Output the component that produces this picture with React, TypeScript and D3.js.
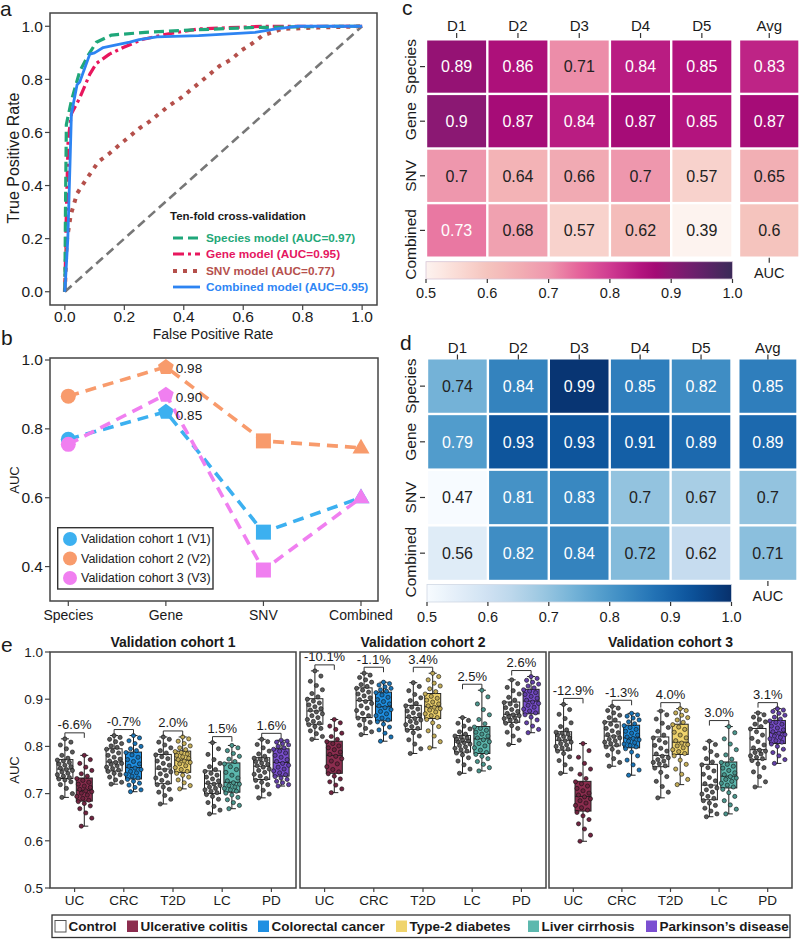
import React from "react";
import * as d3 from "d3";

const FONT = "'Liberation Sans', Arial, Helvetica, sans-serif";

// ---------------- Panel a: ROC curves (FPR, TPR) ----------------
const rocSpecies: [number, number][] = [[0, 0], [0.002, 0.3], [0.005, 0.63], [0.022, 0.72], [0.05, 0.83], [0.078, 0.89], [0.106, 0.94], [0.157, 0.967], [0.27, 0.977], [0.386, 0.984], [0.62, 0.995], [0.9, 1], [1, 1]];
const rocGene: [number, number][] = [[0, 0], [0.005, 0.3], [0.011, 0.57], [0.022, 0.67], [0.05, 0.73], [0.084, 0.82], [0.106, 0.86], [0.15, 0.895], [0.196, 0.92], [0.26, 0.95], [0.34, 0.97], [0.45, 0.99], [0.67, 1], [1, 1]];
const rocSNV: [number, number][] = [[0, 0], [0.006, 0.19], [0.02, 0.29], [0.041, 0.37], [0.07, 0.42], [0.113, 0.49], [0.149, 0.52], [0.18, 0.55], [0.25, 0.615], [0.283, 0.64], [0.35, 0.7], [0.39, 0.73], [0.456, 0.79], [0.52, 0.85], [0.56, 0.875], [0.595, 0.91], [0.63, 0.935], [0.665, 0.965], [0.73, 0.99], [0.85, 0.995], [1, 1]];
const rocCombined: [number, number][] = [[0, 0], [0.01, 0.2], [0.017, 0.47], [0.022, 0.67], [0.041, 0.78], [0.05, 0.79], [0.084, 0.895], [0.1, 0.9], [0.129, 0.92], [0.173, 0.93], [0.218, 0.94], [0.25, 0.95], [0.31, 0.96], [0.45, 0.965], [0.64, 0.977], [0.71, 0.99], [0.78, 1], [1, 1]];
const rocLabels = ["Species model (AUC=0.97)", "Gene model (AUC=0.95)", "SNV model (AUC=0.77)", "Combined model (AUC=0.95)"];
const rocTicks = [0, 0.2, 0.4, 0.6, 0.8, 1.0];

// ---------------- Panel b ----------------
const modelCats = ["Species", "Gene", "SNV", "Combined"];
const v1Auc = [0.77, 0.85, 0.5, 0.6];
const v2Auc = [0.895, 0.98, 0.765, 0.745];
const v3Auc = [0.755, 0.9, 0.39, 0.6];
const cohortNames = ["Validation cohort 1 (V1)", "Validation cohort 2 (V2)", "Validation cohort 3 (V3)"];
const bTicks = [0.4, 0.6, 0.8, 1.0];

// ---------------- Panels c, d ----------------
const dsets = ["D1", "D2", "D3", "D4", "D5"];
const hmRows = ["Species", "Gene", "SNV", "Combined"];
const cValues = [
  [0.89, 0.86, 0.71, 0.84, 0.85],
  [0.9, 0.87, 0.84, 0.87, 0.85],
  [0.7, 0.64, 0.66, 0.7, 0.57],
  [0.73, 0.68, 0.57, 0.62, 0.39],
];
const cAvg = [0.83, 0.87, 0.65, 0.6];
const dValues = [
  [0.74, 0.84, 0.99, 0.85, 0.82],
  [0.79, 0.93, 0.93, 0.91, 0.89],
  [0.47, 0.81, 0.83, 0.7, 0.67],
  [0.56, 0.82, 0.84, 0.72, 0.62],
];
const dAvg = [0.85, 0.89, 0.7, 0.71];
const cbTicks = [0.5, 0.6, 0.7, 0.8, 0.9, 1.0];

// ---------------- Panel e ----------------
const diseases = ["UC", "CRC", "T2D", "LC", "PD"];
const eTicks = [0.5, 0.6, 0.7, 0.8, 0.9, 1.0];
// box stats: [min, q1, median, q3, max]
const e1CtrlStats = [[.692, .732, .752, .772, .816], [.720, .748, .767, .795, .823], [.678, .721, .752, .783, .820], [.657, .700, .721, .748, .808], [.691, .730, .758, .776, .815]];
const e1DisStats = [[.631, .684, .707, .733, .781], [.704, .731, .755, .788, .823], [.710, .745, .771, .790, .820], [.668, .703, .724, .765, .802], [.716, .737, .766, .795, .813]];
const e2CtrlStats = [[.815, .847, .875, .901, .960], [.825, .861, .897, .924, .955], [.785, .836, .861, .887, .935], [.743, .788, .809, .823, .861], [.804, .851, .868, .894, .941]];
const e2DisStats = [[.702, .743, .781, .811, .857], [.811, .854, .884, .915, .936], [.797, .859, .884, .912, .955], [.748, .785, .816, .842, .919], [.829, .869, .896, .921, .948]];
const e3CtrlStats = [[.743, .792, .813, .831, .889], [.758, .801, .822, .852, .885], [.691, .757, .781, .820, .875], [.651, .687, .718, .762, .811], [.714, .772, .793, .838, .871]];
const e3DisStats = [[.599, .663, .694, .726, .806], [.739, .797, .818, .845, .870], [.719, .783, .809, .847, .880], [.657, .712, .737, .767, .842], [.764, .806, .829, .855, .880]];
const e1Change = ["-6.6%", "-0.7%", "2.0%", "1.5%", "1.6%"];
const e2Change = ["-10.1%", "-1.1%", "3.4%", "2.5%", "2.6%"];
const e3Change = ["-12.9%", "-1.3%", "4.0%", "3.0%", "3.1%"];

// individual fold AUCs (dots)
const e1CtrlPts = [
  [.692, .700, .711, .719, .725, .729, .731, .734, .737, .740, .743, .746, .749, .751, .754, .757, .760, .763, .766, .769, .771, .775, .781, .788, .795, .803, .809, .816],
  [.720, .724, .729, .735, .740, .743, .747, .750, .753, .756, .759, .762, .764, .766, .769, .773, .777, .781, .786, .790, .794, .798, .801, .806, .810, .815, .819, .823],
  [.678, .688, .696, .703, .709, .714, .719, .723, .728, .733, .738, .742, .746, .750, .755, .760, .764, .769, .774, .778, .782, .786, .791, .797, .803, .809, .815, .820],
  [.657, .665, .673, .681, .688, .694, .698, .702, .705, .708, .711, .714, .717, .720, .723, .727, .731, .735, .739, .743, .747, .751, .757, .764, .772, .783, .795, .808],
  [.691, .699, .707, .714, .719, .724, .728, .732, .737, .741, .745, .749, .752, .756, .759, .762, .765, .768, .771, .773, .775, .779, .784, .790, .797, .804, .810, .815],
];
const e1DisPts = [
  [.631, .648, .659, .668, .674, .679, .683, .686, .690, .694, .697, .701, .704, .706, .709, .713, .716, .720, .724, .728, .732, .737, .742, .749, .756, .764, .772, .781],
  [.704, .708, .713, .718, .722, .726, .730, .733, .737, .741, .744, .747, .751, .754, .758, .763, .768, .772, .777, .782, .787, .791, .795, .800, .806, .812, .818, .823],
  [.710, .717, .723, .729, .735, .739, .743, .747, .751, .755, .759, .763, .766, .769, .772, .775, .778, .781, .784, .787, .789, .793, .797, .801, .806, .811, .816, .820],
  [.668, .675, .681, .687, .692, .697, .701, .705, .708, .711, .714, .717, .720, .723, .727, .733, .739, .745, .751, .757, .763, .768, .773, .779, .785, .791, .797, .802],
  [.716, .719, .723, .726, .730, .733, .736, .740, .744, .748, .752, .756, .760, .764, .768, .772, .777, .781, .786, .790, .794, .797, .800, .803, .806, .809, .811, .813],
];
const e2CtrlPts = [
  [.815, .821, .827, .833, .838, .842, .846, .849, .853, .857, .861, .865, .869, .873, .877, .880, .884, .888, .892, .896, .900, .905, .912, .920, .929, .938, .949, .960],
  [.825, .831, .838, .845, .851, .856, .860, .865, .870, .876, .881, .886, .891, .895, .899, .903, .907, .911, .915, .919, .923, .927, .931, .936, .941, .946, .951, .955],
  [.785, .795, .805, .814, .822, .829, .834, .838, .842, .846, .850, .853, .856, .859, .863, .867, .871, .875, .879, .883, .886, .891, .897, .903, .910, .918, .927, .935],
  [.743, .752, .761, .769, .776, .782, .786, .790, .793, .796, .799, .802, .805, .808, .810, .812, .814, .816, .818, .820, .822, .826, .831, .837, .843, .849, .855, .861],
  [.804, .813, .822, .830, .838, .844, .849, .853, .856, .859, .861, .863, .865, .867, .870, .874, .878, .882, .886, .890, .893, .898, .904, .911, .918, .925, .933, .941],
];
const e2DisPts = [
  [.702, .710, .718, .725, .731, .737, .742, .746, .751, .757, .763, .769, .774, .779, .783, .788, .793, .797, .801, .806, .810, .815, .821, .828, .836, .843, .850, .857],
  [.811, .820, .828, .835, .841, .847, .852, .856, .860, .865, .869, .874, .878, .882, .886, .890, .895, .899, .904, .909, .914, .917, .920, .923, .926, .930, .933, .936],
  [.797, .810, .822, .833, .842, .850, .857, .861, .865, .869, .873, .877, .880, .883, .886, .890, .894, .898, .902, .906, .911, .916, .922, .928, .934, .941, .948, .955],
  [.748, .755, .762, .768, .774, .779, .783, .787, .792, .797, .801, .806, .810, .814, .818, .822, .826, .830, .834, .838, .841, .848, .857, .867, .878, .890, .905, .919],
  [.829, .836, .843, .850, .856, .862, .867, .871, .875, .879, .883, .887, .891, .894, .898, .902, .906, .910, .914, .917, .920, .924, .928, .932, .936, .940, .944, .948],
];
const e3CtrlPts = [
  [.743, .752, .761, .770, .778, .785, .790, .794, .797, .800, .803, .806, .809, .812, .815, .818, .821, .824, .826, .828, .830, .835, .842, .850, .859, .868, .878, .889],
  [.758, .766, .774, .781, .788, .794, .799, .803, .806, .809, .812, .815, .818, .821, .825, .829, .833, .838, .843, .847, .851, .856, .861, .866, .871, .876, .881, .885],
  [.691, .703, .715, .726, .736, .745, .754, .759, .763, .766, .769, .772, .776, .779, .784, .790, .796, .802, .808, .813, .818, .824, .832, .840, .849, .858, .867, .875],
  [.651, .657, .663, .669, .675, .680, .685, .690, .694, .699, .703, .708, .712, .716, .721, .727, .734, .741, .748, .755, .761, .767, .774, .781, .789, .796, .804, .811],
  [.714, .725, .736, .746, .755, .763, .770, .774, .777, .780, .784, .787, .790, .792, .797, .803, .810, .817, .824, .831, .837, .842, .847, .852, .857, .862, .867, .871],
];
const e3DisPts = [
  [.599, .612, .625, .636, .645, .653, .660, .665, .670, .675, .680, .685, .689, .693, .697, .701, .706, .711, .716, .721, .725, .732, .741, .752, .764, .777, .791, .806],
  [.739, .750, .761, .771, .780, .788, .795, .799, .802, .805, .808, .811, .814, .817, .820, .824, .828, .832, .836, .840, .844, .848, .852, .856, .860, .864, .867, .870],
  [.719, .730, .741, .752, .762, .771, .780, .785, .789, .793, .797, .801, .804, .807, .812, .818, .824, .830, .836, .841, .846, .851, .856, .861, .866, .871, .876, .880],
  [.657, .667, .676, .685, .694, .702, .709, .714, .718, .722, .726, .730, .733, .736, .740, .744, .749, .754, .758, .762, .766, .773, .782, .793, .805, .816, .829, .842],
  [.764, .772, .780, .787, .794, .800, .805, .809, .812, .816, .819, .822, .825, .828, .831, .835, .839, .843, .847, .851, .854, .858, .862, .866, .870, .874, .877, .880],
];
const legendNames = ["Control", "Ulcerative colitis", "Colorectal cancer", "Type-2 diabetes", "Liver cirrhosis", "Parkinson\u2019s disease"];

// ---------------- styles ----------------
const diseaseColors = ["#8c2d4f", "#1e8fe2", "#f0d46c", "#5cb8ae", "#7b4fd1"];
const cohortColors = ["#3cb0f0", "#f89b6c", "#f07ff0"];
const TXT = "#1a1a1a";
const FRAME = "#444";

const pinkStops: [number, string][] = [[0.5, "#fdf3ef"], [0.55, "#fadcd6"], [0.6, "#f5c4be"], [0.65, "#f2afb4"], [0.7, "#ee97ad"], [0.75, "#e5639b"], [0.8, "#cf3b91"], [0.85, "#b3147e"], [0.875, "#a30a75"], [0.9, "#8b1873"], [0.95, "#622169"], [1.0, "#3a2a58"]];
const pinkScale = d3.scaleLinear<string>().domain(pinkStops.map((s) => s[0])).range(pinkStops.map((s) => s[1])).interpolate(d3.interpolateRgb).clamp(true);
const pinkColor = (v: number) => pinkScale(v);
const blueColor = (v: number) => d3.interpolateBlues(Math.max(0, Math.min(1, (v - 0.5) / 0.5)));

function PanelA() {
  const x = d3.scaleLinear().domain([-0.05, 1.05]).range([50, 377]);
  const y = d3.scaleLinear().domain([-0.05, 1.05]).range([305, 13]);
  const line = d3.line<[number, number]>().x((d) => x(d[0])).y((d) => y(d[1]));
  const styles = [
    { color: "#1fa77a", dash: "10 5", w: 3.2, txt: "#1fa878" },
    { color: "#e8175d", dash: "11 4 3 4", w: 3.2, txt: "#e5165f" },
    { color: "#b5504b", dash: "4 6", w: 4, txt: "#b5504d" },
    { color: "#2d84f2", dash: undefined as string | undefined, w: 2.8, txt: "#2e86f5" },
  ];
  const data = [rocSpecies, rocGene, rocSNV, rocCombined];
  const drawOrder = [2, 1, 0, 3];
  const legY = [238, 254, 271, 287];
  return (
    <g>
      <text x={0} y={16} fontSize={21} fill={TXT}>a</text>
      <path d={line([[0, 0], [1, 1]]) || ""} stroke="#777" strokeWidth={2.6} strokeDasharray="9 5" fill="none" />
      {drawOrder.map((i) => (
        <path key={i} d={line(data[i]) || ""} fill="none" stroke={styles[i].color} strokeWidth={styles[i].w} strokeDasharray={styles[i].dash} strokeLinejoin="round" />
      ))}
      <rect x={50} y={13} width={327} height={292} fill="none" stroke={FRAME} strokeWidth={1.5} />
      {rocTicks.map((t) => (
        <g key={"x" + t}>
          <line x1={x(t)} x2={x(t)} y1={305} y2={310} stroke={FRAME} strokeWidth={1.2} />
          <text x={x(t)} y={322} fontSize={15.5} textAnchor="middle" fill={TXT}>{t.toFixed(1)}</text>
          <line x1={45} x2={50} y1={y(t)} y2={y(t)} stroke={FRAME} strokeWidth={1.2} />
          <text x={43} y={y(t)} dy="0.35em" fontSize={15.5} textAnchor="end" fill={TXT}>{t.toFixed(1)}</text>
        </g>
      ))}
      <text x={213} y={338.5} fontSize={14} textAnchor="middle" fill={TXT}>False Positive Rate</text>
      <text transform="translate(13,158) rotate(-90)" fontSize={16} textAnchor="middle" dy="0.35em" fill={TXT}>True Positive Rate</text>
      <text x={170} y={220} fontSize={11.5} fontWeight="bold" fill={TXT}>Ten-fold cross-validation</text>
      {rocLabels.map((lab, i) => (
        <g key={lab}>
          <line x1={173} x2={200} y1={legY[i]} y2={legY[i]} stroke={styles[i].color} strokeWidth={styles[i].w} strokeDasharray={styles[i].dash} />
          <text x={206} y={legY[i]} dy="0.35em" fontSize={11.8} fontWeight="bold" fill={styles[i].txt}>{lab}</text>
        </g>
      ))}
    </g>
  );
}

function pentagon(cx: number, cy: number, r: number) {
  const pts = d3.range(5).map((k) => {
    const a = (-90 + 72 * k) * Math.PI / 180;
    return [cx + r * Math.cos(a), cy + r * Math.sin(a)];
  });
  return "M" + pts.map((p) => p.join(",")).join("L") + "Z";
}

function Marker({ kind, cx, cy, color }: { kind: number; cx: number; cy: number; color: string }) {
  if (kind === 0) return <circle cx={cx} cy={cy} r={7.5} fill={color} />;
  if (kind === 1) return <path d={pentagon(cx, cy + 0.5, 8.3)} fill={color} />;
  if (kind === 2) return <rect x={cx - 7.5} y={cy - 7.5} width={15} height={15} fill={color} />;
  const s = 17;
  const h = s * Math.sqrt(3) / 2;
  return <path d={`M${cx},${cy - h * 0.62}L${cx + s / 2},${cy + h * 0.38}L${cx - s / 2},${cy + h * 0.38}Z`} fill={color} />;
}

function PanelB() {
  const x = d3.scalePoint<string>().domain(modelCats).range([68.3, 361]);
  const y = d3.scaleLinear().domain([0.3, 1.0]).range([601, 360]);
  const series = [v1Auc, v2Auc, v3Auc];
  const line = d3.line<number>().x((_, i) => x(modelCats[i])!).y((d) => y(d));
  const labelVals = [v2Auc[1], v3Auc[1], v1Auc[1]];
  const labelDy = [1, 3, 4];
  return (
    <g>
      <text x={1} y={345} fontSize={21} fill={TXT}>b</text>
      {series.map((s, si) => (
        <g key={si}>
          <path d={line(s) || ""} fill="none" stroke={cohortColors[si]} strokeWidth={3.6} strokeDasharray="11 7" />
          {s.map((v, i) => (
            <Marker key={i} kind={i} cx={x(modelCats[i])!} cy={y(v)} color={cohortColors[si]} />
          ))}
        </g>
      ))}
      {labelVals.map((v, i) => (
        <text key={i} x={x("Gene")! + 10} y={y(v) + labelDy[i]} dy="0.35em" fontSize={13.5} fill={TXT}>{v.toFixed(2)}</text>
      ))}
      <rect x={50} y={358} width={328} height={243} fill="none" stroke={FRAME} strokeWidth={1.5} />
      {bTicks.map((t) => (
        <g key={t}>
          <line x1={45} x2={50} y1={y(t)} y2={y(t)} stroke={FRAME} strokeWidth={1.2} />
          <text x={43} y={y(t)} dy="0.35em" fontSize={15.5} textAnchor="end" fill={TXT}>{t.toFixed(1)}</text>
        </g>
      ))}
      {modelCats.map((c) => (
        <g key={c}>
          <line x1={x(c)} x2={x(c)} y1={601} y2={606} stroke={FRAME} strokeWidth={1.2} />
          <text x={x(c)} y={620} fontSize={14} textAnchor="middle" fill={TXT}>{c}</text>
        </g>
      ))}
      <text transform="translate(14,480) rotate(-90)" fontSize={13} textAnchor="middle" dy="0.35em" fill={TXT}>AUC</text>
      <rect x={57.7} y={527.7} width={155.3} height={61.3} fill="#fff" stroke="#333" strokeWidth={1.4} />
      {cohortNames.map((n, i) => (
        <g key={n}>
          <circle cx={70} cy={539 + i * 19.5} r={7} fill={cohortColors[i]} />
          <text x={81} y={539 + i * 19.5} dy="0.35em" fontSize={12.5} fill={TXT}>{n}</text>
        </g>
      ))}
    </g>
  );
}

type HMProps = {
  label: string; labelY: number; values: number[][]; avg: number[]; color: (v: number) => string; white: number;
  cx0: number; cx1: number; ax0: number; ax1: number; top: number; bottom: number; colY: number;
  cb0: number; cb1: number; cbLab: number; gid: string; cbStroke: string; lastShift: number;
};

function Heatmap(p: HMProps) {
  const xb = d3.scaleBand<string>().domain(dsets).range([p.cx0, p.cx1]);
  const yb = d3.scaleBand<string>().domain(hmRows).range([p.top, p.bottom]);
  const cbx = d3.scaleLinear().domain([0.5, 1.0]).range([p.cx0, p.cx1]);
  const g = 1.2;
  const aw = p.ax1 - p.ax0;
  const acx = (p.ax0 + p.ax1) / 2;
  const cell = (x0: number, w: number, row: string, v: number, key: string) => (
    <g key={key}>
      <rect x={x0 + g} y={yb(row)! + g} width={w - 2 * g} height={yb.bandwidth() - 2 * g} fill={p.color(v)} />
      <text x={x0 + w / 2} y={yb(row)! + yb.bandwidth() / 2} dy="0.36em" textAnchor="middle" fontSize={16} fill={v >= p.white ? "#fff" : "#222"}>{String(v)}</text>
    </g>
  );
  const gradStops = d3.range(0, 1.0001, 0.025);
  return (
    <g>
      <text x={p.label === "c" ? 402 : 400} y={p.labelY} fontSize={21} fill={TXT}>{p.label}</text>
      <defs>
        <linearGradient id={p.gid} x1="0" x2="1" y1="0" y2="0">
          {gradStops.map((t) => <stop key={t} offset={t} stopColor={p.color(0.5 + 0.5 * t)} />)}
        </linearGradient>
      </defs>
      {hmRows.map((r, ri) => {
        const cy = yb(r)! + yb.bandwidth() / 2;
        const ly = cy + (ri === hmRows.length - 1 ? p.lastShift : 0);
        return (
          <g key={r}>
            {dsets.map((d, di) => cell(xb(d)!, xb.bandwidth(), r, p.values[ri][di], r + d))}
            {cell(p.ax0, aw, r, p.avg[ri], r + "avg")}
            <line x1={420} x2={425} y1={cy} y2={cy} stroke="#333" strokeWidth={1.2} />
            <text transform={`translate(411,${ly}) rotate(-90)`} dy="0.35em" textAnchor="middle" fontSize={15.5} fill={TXT}>{r}</text>
          </g>
        );
      })}
      {dsets.map((d) => (
        <g key={d}>
          <text x={xb(d)! + xb.bandwidth() / 2} y={p.colY} dy="0.35em" textAnchor="middle" fontSize={15} fill={TXT}>{d}</text>
          <line x1={xb(d)! + xb.bandwidth() / 2} x2={xb(d)! + xb.bandwidth() / 2} y1={p.colY + 7} y2={p.colY + 12} stroke="#333" strokeWidth={1.2} />
        </g>
      ))}
      <text x={acx} y={p.colY} dy="0.35em" textAnchor="middle" fontSize={15} fill={TXT}>Avg</text>
      <line x1={acx} x2={acx} y1={p.colY + 7} y2={p.colY + 12} stroke="#333" strokeWidth={1.2} />
      <rect x={p.cx0} y={p.cb0} width={p.cx1 - p.cx0} height={p.cb1 - p.cb0} fill={`url(#${p.gid})`} stroke={p.cbStroke} strokeWidth={0.8} />
      {cbTicks.map((t) => (
        <g key={t}>
          <line x1={cbx(t)} x2={cbx(t)} y1={p.cb1} y2={p.cb1 + 4} stroke="#333" strokeWidth={1.2} />
          <text x={cbx(t)} y={p.cbLab} dy="0.35em" textAnchor="middle" fontSize={14.5} fill={TXT}>{t.toFixed(1)}</text>
        </g>
      ))}
      <line x1={acx} x2={acx} y1={p.bottom} y2={p.bottom + 5} stroke="#333" strokeWidth={1.2} />
      <text x={acx} y={(p.cb0 + p.cb1) / 2 + 3} dy="0.35em" textAnchor="middle" fontSize={14.5} fill={TXT}>AUC</text>
    </g>
  );
}

type EPanelProps = {
  x0: number; x1: number; title: string; ctrl: number[][]; dis: number[][]; ctrlPts: number[][]; disPts: number[][];
  change: string[]; yAxis: boolean;
};

function EPanel(p: EPanelProps) {
  const y = d3.scaleLinear().domain([0.5, 1.0]).range([888, 652]);
  const xb = d3.scaleBand<string>().domain(diseases).range([p.x0, p.x1]);
  const bw = 16;
  const off = 9.7;
  const box = (cx: number, s: number[], fill: string, pts: number[], ptFill: string, key: string) => (
    <g key={key}>
      <line x1={cx} x2={cx} y1={y(s[0])} y2={y(s[4])} stroke="#222" strokeWidth={1} />
      <line x1={cx - 4} x2={cx + 4} y1={y(s[0])} y2={y(s[0])} stroke="#222" strokeWidth={1} />
      <line x1={cx - 4} x2={cx + 4} y1={y(s[4])} y2={y(s[4])} stroke="#222" strokeWidth={1} />
      <rect x={cx - bw / 2} y={y(s[3])} width={bw} height={y(s[1]) - y(s[3])} fill={fill} stroke="#222" strokeWidth={1} />
      <line x1={cx - bw / 2} x2={cx + bw / 2} y1={y(s[2])} y2={y(s[2])} stroke="#222" strokeWidth={1} />
      {pts.map((v, i) => (
        <circle key={i} cx={cx + ((((i * 7 + 3) % 11) / 10) - 0.5) * 15} cy={y(v)} r={2.1} fill={ptFill} stroke="#111" strokeWidth={0.6} />
      ))}
    </g>
  );
  return (
    <g>
      <text x={(p.x0 + p.x1) / 2} y={647} textAnchor="middle" fontSize={14} fontWeight="bold" fill={TXT}>{p.title}</text>
      {diseases.map((d, i) => {
        const c = xb(d)! + xb.bandwidth() / 2;
        const c1 = c - off, c2 = c + off;
        const top = Math.max(p.ctrl[i][4], p.dis[i][4]);
        const by = y(top) - 6;
        return (
          <g key={d}>
            {box(c1, p.ctrl[i], "#fff", p.ctrlPts[i], "#5a5a5a", "c")}
            {box(c2, p.dis[i], diseaseColors[i], p.disPts[i], d3.color(diseaseColors[i])!.darker(0.6).formatHex(), "d")}
            <path d={`M${c1},${by + 5}V${by}H${c2}V${by + 5}`} fill="none" stroke="#333" strokeWidth={1} />
            <text x={c} y={by - 3.5} textAnchor="middle" fontSize={13} fill={TXT}>{p.change[i]}</text>
            <line x1={c} x2={c} y1={888} y2={892} stroke={FRAME} strokeWidth={1.2} />
            <text x={c} y={905} textAnchor="middle" fontSize={13.5} fill={TXT}>{d}</text>
          </g>
        );
      })}
      <rect x={p.x0} y={652} width={p.x1 - p.x0} height={236} fill="none" stroke={FRAME} strokeWidth={1.5} />
      {p.yAxis && eTicks.map((t) => (
        <g key={t}>
          <line x1={p.x0 - 5} x2={p.x0} y1={y(t)} y2={y(t)} stroke={FRAME} strokeWidth={1.2} />
          <text x={p.x0 - 7} y={y(t)} dy="0.35em" textAnchor="end" fontSize={13.5} fill={TXT}>{t.toFixed(1)}</text>
        </g>
      ))}
      {p.yAxis && <text transform="translate(14,770) rotate(-90)" dy="0.35em" textAnchor="middle" fontSize={13} fill={TXT}>AUC</text>}
    </g>
  );
}

function LegendE() {
  const sqX = [55, 127, 258, 396, 528, 646];
  const fills = ["#fff", ...diseaseColors];
  return (
    <g>
      <rect x={52} y={915} width={738} height={22.5} fill="#fff" stroke="#333" strokeWidth={1.3} />
      {legendNames.map((n, i) => (
        <g key={n}>
          <rect x={sqX[i]} y={920.5} width={11} height={11.5} fill={fills[i]} stroke={i === 0 ? "#555" : "none"} strokeWidth={1} />
          <text x={sqX[i] + 13.5} y={931} fontSize={13.5} fontWeight="bold" fill={TXT}>{n}</text>
        </g>
      ))}
    </g>
  );
}

export default function App() {
  return (
    <svg width={800} height={939} viewBox="0 0 800 939" style={{ position: "absolute", left: 0, top: 0, display: "block", background: "#fff" }} fontFamily={FONT}>
      <rect width={800} height={939} fill="#fff" />
      <PanelA />
      <PanelB />
      <Heatmap label="c" labelY={15} values={cValues} avg={cAvg} color={pinkColor} white={0.72}
        cx0={426} cx1={732.5} ax0={739} ax1={799.5} top={39.3} bottom={257.7} colY={26}
        cb0={261.7} cb1={279} cbLab={293} gid="gradPink" cbStroke="#d8c6d6" lastShift={14} />
      <Heatmap label="d" labelY={350} values={dValues} avg={dAvg} color={blueColor} white={0.76}
        cx0={427} cx1={731.5} ax0={738.3} ax1={797.5} top={358.3} bottom={581} colY={347.5}
        cb0={584.5} cb1={602} cbLab={616.5} gid="gradBlue" cbStroke="#d0d8e4" lastShift={9} />
      <text x={1} y={652} fontSize={21} fill={TXT}>e</text>
      <EPanel x0={50} x1={296} title="Validation cohort 1" ctrl={e1CtrlStats} dis={e1DisStats} ctrlPts={e1CtrlPts} disPts={e1DisPts} change={e1Change} yAxis={true} />
      <EPanel x0={300} x1={546} title="Validation cohort 2" ctrl={e2CtrlStats} dis={e2DisStats} ctrlPts={e2CtrlPts} disPts={e2DisPts} change={e2Change} yAxis={false} />
      <EPanel x0={549} x1={792} title="Validation cohort 3" ctrl={e3CtrlStats} dis={e3DisStats} ctrlPts={e3CtrlPts} disPts={e3DisPts} change={e3Change} yAxis={false} />
      <LegendE />
    </svg>
  );
}
